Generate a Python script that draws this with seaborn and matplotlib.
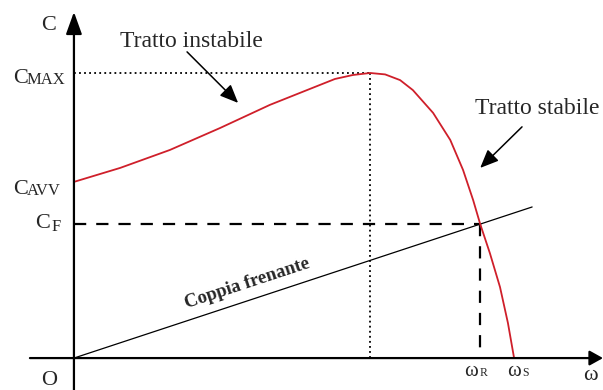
import numpy as np
import pandas as pd
import matplotlib
matplotlib.use("Agg")
import matplotlib.pyplot as plt
import seaborn as sns

# Characteristic torque curve of an asynchronous motor (normalised units)
omega_curve = [0.000, 0.105, 0.218, 0.332, 0.445, 0.536, 0.593, 0.634, 0.673,
               0.707, 0.741, 0.770, 0.816, 0.855, 0.884, 0.907, 0.923, 0.945,
               0.968, 0.986, 1.000]
torque_curve = [0.618, 0.667, 0.730, 0.807, 0.888, 0.944, 0.979, 0.993, 1.000,
                0.995, 0.975, 0.940, 0.860, 0.765, 0.660, 0.554, 0.470, 0.368,
                0.249, 0.123, 0.000]

# Load (braking) torque line
omega_brake = [0.0, 1.041]
torque_brake = [0.0, 0.530]

# Reference levels
C_MAX = 1.0
OMEGA_CMAX = 0.673
C_AVV = 0.618
C_F = 0.470
OMEGA_R = 0.923
OMEGA_S = 1.0

sns.set_theme(style="white")
plt.rcParams["font.family"] = ["Liberation Serif", "DejaVu Serif"]

fig = plt.figure(figsize=(6.03, 3.90), dpi=100)
ax = fig.add_axes([0, 0, 1, 1])
ax.set_xlim(-0.168, 1.202)
ax.set_ylim(-0.112, 1.256)
ax.axis("off")

curve = pd.DataFrame({"omega": omega_curve, "C": torque_curve})
brake = pd.DataFrame({"omega": omega_brake, "C": torque_brake})

# Axes with arrows
ax.annotate("", xy=(1.202, 0), xytext=(-0.10, 0),
            arrowprops=dict(arrowstyle="-|>,head_length=0.45,head_width=0.25",
                            lw=1.6, color="black", mutation_scale=18,
                            shrinkA=0, shrinkB=0))
ax.annotate("", xy=(0, 1.214), xytext=(0, -0.112),
            arrowprops=dict(arrowstyle="-|>,head_length=0.75,head_width=0.27",
                            lw=1.6, color="black", mutation_scale=18,
                            shrinkA=0, shrinkB=0))

# Guide lines
ax.plot([0, OMEGA_CMAX], [C_MAX, C_MAX], color="black", lw=1.3,
        linestyle=(0, (1, 1.8)))
ax.plot([OMEGA_CMAX, OMEGA_CMAX], [C_MAX, 0], color="black", lw=1.3,
        linestyle=(0, (1, 1.8)))
ax.plot([0, OMEGA_R], [C_F, C_F], color="black", lw=1.6,
        linestyle=(0, (5.5, 4.5)))
ax.plot([OMEGA_R, OMEGA_R], [C_F, 0], color="black", lw=1.6,
        linestyle=(0, (5.5, 4.5)))

# Curves
sns.lineplot(data=brake, x="omega", y="C", ax=ax, color="black", lw=0.9,
             estimator=None, sort=False)
sns.lineplot(data=curve, x="omega", y="C", ax=ax, color="#cf1f2a", lw=1.3,
             estimator=None, sort=False)

# Axis labels
ax.text(-0.075, 1.151, "C", fontsize=16, ha="left", va="baseline")
ax.text(-0.057, -0.096, "O", fontsize=16, ha="center", va="baseline")
ax.text(1.157, -0.077, "ω", fontsize=16, ha="left", va="baseline")

# Torque level labels
ax.text(-0.139, 0.965, "C", fontsize=16, ha="left", va="baseline")
ax.text(-0.107, 0.962, "MAX", fontsize=12, ha="left", va="baseline")
ax.text(-0.139, 0.575, "C", fontsize=16, ha="left", va="baseline")
ax.text(-0.107, 0.572, "AVV", fontsize=12, ha="left", va="baseline")
ax.text(-0.088, 0.456, "C", fontsize=16, ha="left", va="baseline")
ax.text(-0.052, 0.446, "F", fontsize=12, ha="left", va="baseline")

# Speed labels
ax.text(0.886, -0.063, "ω", fontsize=15, ha="left", va="baseline")
ax.text(0.921, -0.063, "R", fontsize=8.5, ha="left", va="baseline")
ax.text(0.984, -0.063, "ω", fontsize=15, ha="left", va="baseline")
ax.text(1.019, -0.063, "S", fontsize=8.5, ha="left", va="baseline")

# Region annotations
ax.text(0.268, 1.091, "Tratto instabile", fontsize=17, ha="center",
        va="baseline")
ax.annotate("", xy=(0.373, 0.895), xytext=(0.257, 1.074),
            arrowprops=dict(arrowstyle="-|>,head_length=0.7,head_width=0.3",
                            lw=1.1, color="black", mutation_scale=16,
                            shrinkA=0, shrinkB=0))
ax.text(1.052, 0.856, "Tratto stabile", fontsize=17, ha="center",
        va="baseline")
ax.annotate("", xy=(0.923, 0.667), xytext=(1.018, 0.811),
            arrowprops=dict(arrowstyle="-|>,head_length=0.7,head_width=0.3",
                            lw=1.1, color="black", mutation_scale=16,
                            shrinkA=0, shrinkB=0))

# Label along the braking torque line
ax.text(0.257, 0.175, "Coppia frenante", fontsize=13.5, fontweight="bold",
        rotation=18.2, rotation_mode="anchor", ha="left", va="baseline")

fig.savefig("out.png", dpi=100)
